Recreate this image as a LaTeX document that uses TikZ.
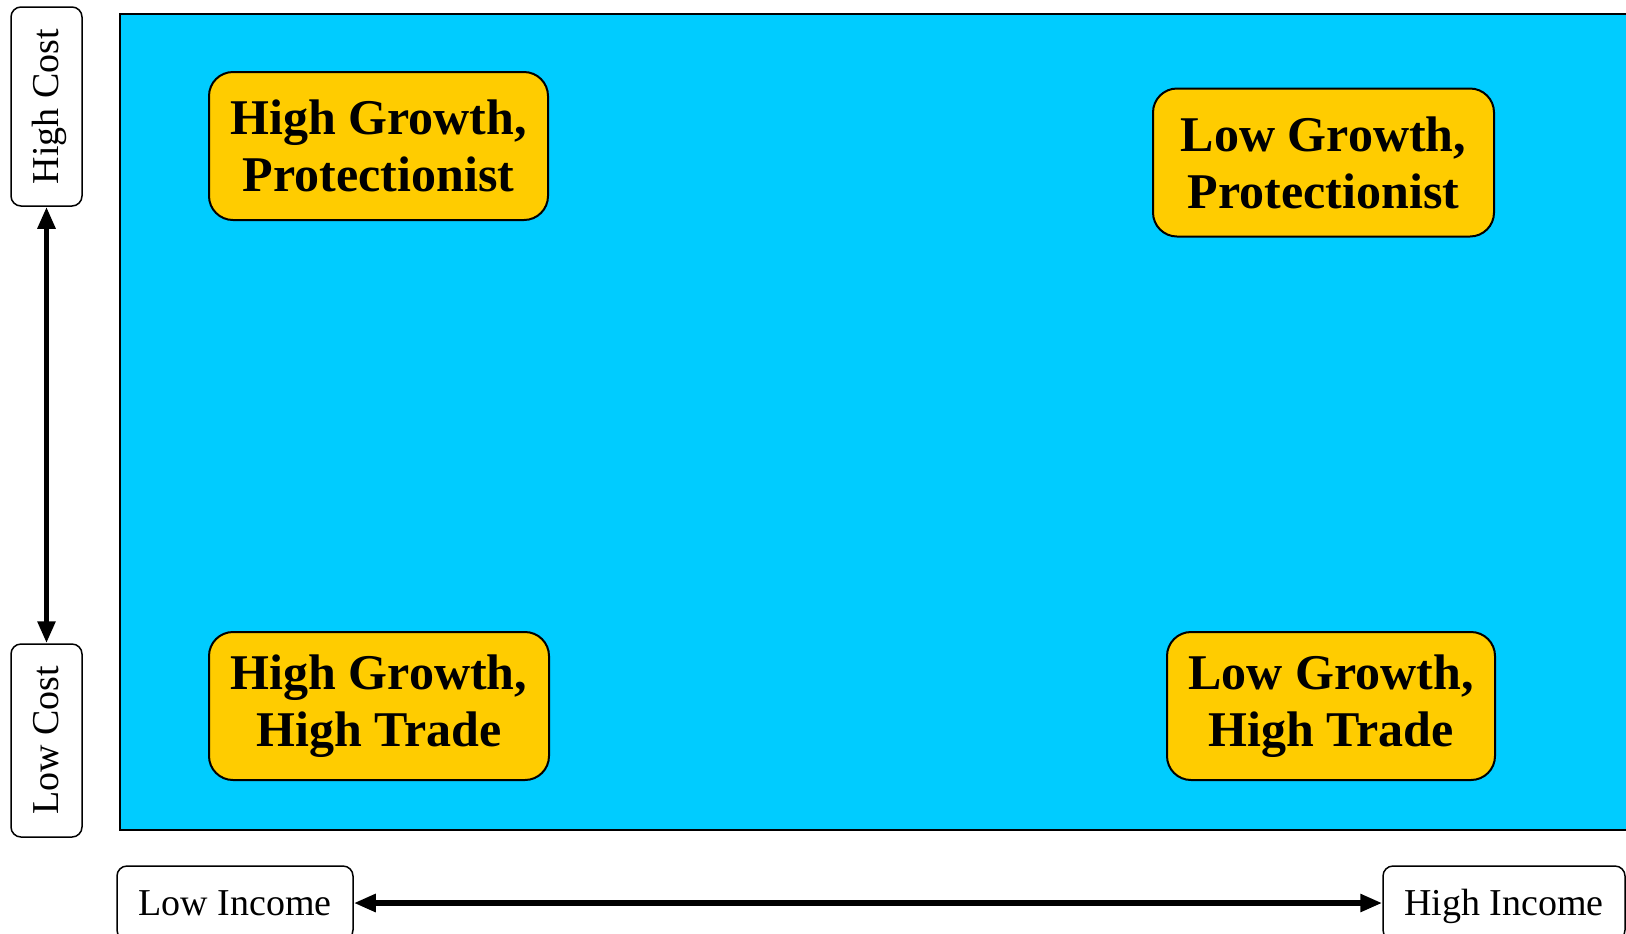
\documentclass[tikz,border=0pt]{standalone}
\usepackage{fontspec}
\setmainfont{Liberation Serif}
\usetikzlibrary{arrows.meta}
\definecolor{quadblue}{HTML}{00CCFF}
\definecolor{quadgold}{HTML}{FFCC00}
\begin{document}
\begin{tikzpicture}[x=0.5pt,y=-0.5pt,
        quad/.style = {draw, rounded corners=12pt, fill=quadgold,
            line width=1pt, align=center, minimum height=74pt,
            font=\fontsize{25}{28.5}\selectfont\bfseries},
        axis/.style = {draw, rounded corners=5pt, fill=white,
            line width=0.75pt, inner sep=0pt, text height=15pt, text depth=3pt,
            font=\fontsize{19}{22}\selectfont},
        scale arrow/.style = {{Triangle[length=11pt,width=8.5pt]}-{Triangle[length=11pt,width=8.5pt]},
            line width=2.75pt}]
    \useasboundingbox (0,0) rectangle (1626,933);
    \clip (0,0) rectangle (1626,933);
    \draw[fill=quadblue, line width=1pt] (120,14) rectangle (1640,830);
    % quadrants
    \node[quad, minimum width=169.5pt] (hgp) at (378.5,146) {High Growth,\\Protectionist};
    \node[quad, minimum width=170.5pt] (lgp) at (1323.5,162.5) {Low Growth,\\Protectionist};
    \node[quad, minimum width=170pt] (hght) at (379,706) {High Growth,\\High Trade};
    \node[quad, minimum width=164pt] (lght) at (1331,706) {Low Growth,\\High Trade};
    % axes
    \node[axis, rotate=90, minimum width=99.5pt, minimum height=35.5pt] (hc) at (46.5,106.5) {High Cost};
    \node[axis, rotate=90, minimum width=96.5pt, minimum height=35.5pt] (lc) at (46.5,740.5) {Low Cost};
    \node[axis, minimum width=118pt, minimum height=37pt] (li) at (235,903) {Low Income};
    \node[axis, minimum width=121pt, minimum height=37pt] (hi) at (1504,903) {High Income};
    \draw[scale arrow] (hc.west) -- (lc.east);
    \draw[scale arrow] (li.east) -- (hi.west);
\end{tikzpicture}
\end{document}
